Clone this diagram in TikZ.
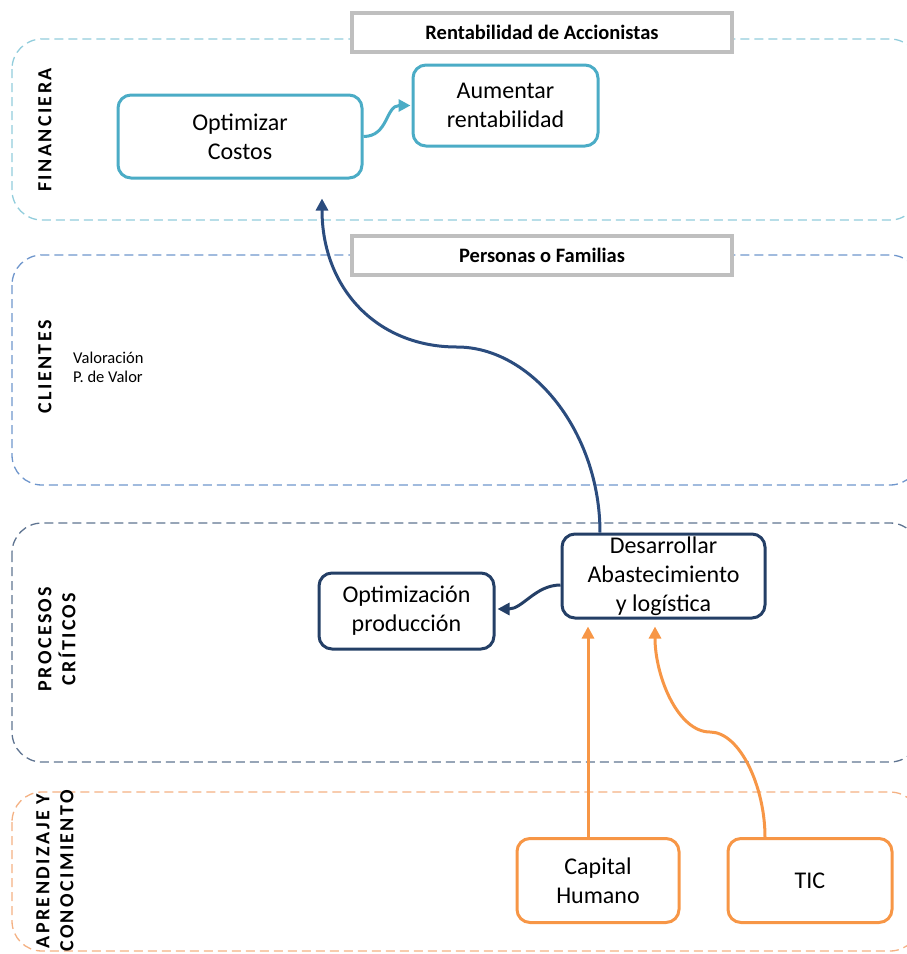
\documentclass[tikz,border=0pt]{standalone}
\usepackage{fontspec}
\setmainfont{Carlito}
\newfontfamily\bandfont[LetterSpace=12]{Carlito}
\usetikzlibrary{arrows.meta}

\definecolor{finline}{HTML}{92CDDC}
\definecolor{cliline}{HTML}{6F96CC}
\definecolor{proline}{HTML}{5F7491}
\definecolor{aprline}{HTML}{F4B183}
\definecolor{cyanbox}{HTML}{4BACC6}
\definecolor{navybox}{HTML}{243F66}
\definecolor{navyarrow}{HTML}{2B4C7E}
\definecolor{orangebox}{HTML}{F79646}
\definecolor{hdrgray}{HTML}{BFBFBF}

\begin{document}
\begin{tikzpicture}[x=1pt,y=-1pt,
  band/.style={dash pattern=on 9pt off 5pt, line width=1.3pt, rounded corners=30pt},
  bandlabel/.style={rotate=90, align=center, inner sep=0pt,
    font=\bandfont\bfseries\fontsize{20}{24}\selectfont},
  header/.style={draw=hdrgray, line width=4pt, fill=white, inner sep=0pt,
    minimum width=380pt, minimum height=39pt,
    font=\bfseries\fontsize{20.5}{24}\selectfont},
  goal/.style={rounded corners=13pt, line width=3pt, fill=white, inner sep=0pt,
    align=center, font=\fontsize{24}{29}\selectfont},
  fingoal/.style={goal, draw=cyanbox},
  progoal/.style={goal, draw=navybox},
  aprgoal/.style={goal, draw=orangebox},
  tip/.style={-{Triangle[length=12pt,width=12pt]}},
  cyanlink/.style={tip, draw=cyanbox, line width=3pt},
  navylink/.style={tip, draw=navybox, line width=3pt},
  bluelink/.style={tip, draw=navyarrow, line width=3pt},
  orangelink/.style={tip, draw=orangebox, line width=3pt}
]
\useasboundingbox (0,0) rectangle (907,954);
\clip (0,0) rectangle (907,954);

% perspective bands
\draw[band, draw=finline] (12,39) rectangle (920,220);
\draw[band, draw=cliline] (12,255) rectangle (920,485);
\draw[band, draw=proline] (12,523) rectangle (920,762);
\draw[band, draw=aprline] (12,792) rectangle (920,951);

% band titles
\node[bandlabel] (lblfin) at (45,130) {FINANCIERA};
\node[bandlabel] (lblcli) at (45,367) {CLIENTES};
\node[bandlabel] (lblpro) at (57,639) {PROCESOS\\CRÍTICOS};
\node[bandlabel] (lblapr) at (55,871) {APRENDIZAJE Y\\CONOCIMIENTO};

% headers
\node[header] (hdrfin) at (542,32.5) {Rentabilidad de Accionistas};
\node[header] (hdrcli) at (542,255) {Personas o Familias};

% customer notes
\node[anchor=base west, inner sep=0pt, font=\fontsize{16.5}{19}\selectfont] (val1) at (73,363) {Valoración};
\node[anchor=base west, inner sep=0pt, font=\fontsize{16.5}{19}\selectfont] (val2) at (73,382) {P. de Valor};

% objectives
\node[fingoal, minimum width=244pt, minimum height=83pt] (oc) at (240,136.5) {Optimizar\\Costos};
\node[fingoal, minimum width=185pt, minimum height=81pt] (ar) at (505.5,105.5) {Aumentar\\rentabilidad};
\node[progoal, minimum width=175pt, minimum height=76pt] (op) at (406.5,611) {Optimización\\producción};
\node[progoal, minimum width=203pt, minimum height=84pt] (da) at (663.5,576) {Desarrollar\\Abastecimiento\\y logística};
\node[aprgoal, minimum width=162pt, minimum height=84pt] (ch) at (598,880.5) {Capital\\Humano};
\node[aprgoal, minimum width=164pt, minimum height=84pt] (tic) at (810,880.5) {TIC};

% bend points of the long connectors
\coordinate (bluebend) at (457,347);
\coordinate (ticbend) at (710,732);

% cause-effect links
\draw[cyanlink] (oc.east) .. controls +(25,0) and +(-25,0) .. ([shift={(-1,0)}]ar.west);
\draw[navylink] ([shift={(0,9)}]da.west) .. controls +(-25,0) and +(25,0) .. ([shift={(2,-2)}]op.east);
\draw[bluelink] ([shift={(-63.5,0)}]da.north) .. controls +(0,-100) and +(75,0) .. (bluebend)
  .. controls +(-80,0) and +(0,90) .. ([shift={(82,19)}]oc.south);
\draw[orangelink] ([shift={(-10,0)}]ch.north) -- ([shift={(-75.5,7)}]da.south);
\draw[orangelink] ([shift={(-45,0)}]tic.north) .. controls +(0,-50) and +(30,0) .. (ticbend)
  .. controls +(-32,0) and +(0,50) .. ([shift={(-8.5,7)}]da.south);
\end{tikzpicture}
\end{document}
